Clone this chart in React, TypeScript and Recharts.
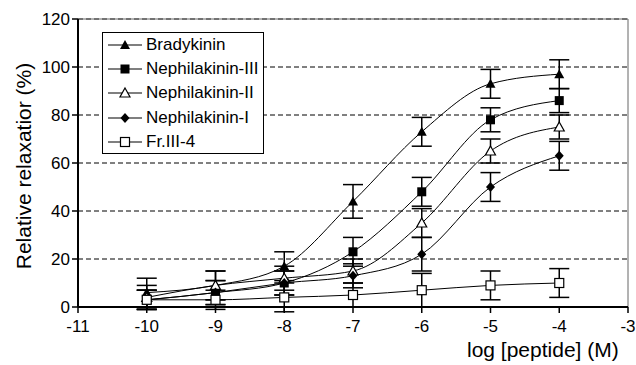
import React from 'react';
import {
  LineChart, Line, XAxis, YAxis, CartesianGrid, ErrorBar, ReferenceLine, Label,
} from 'recharts';

const doses = [-10, -9, -8, -7, -6, -5, -4];

const bradykinin = [6, 9, 17, 44, 73, 93, 97];
const bradykininErr = [6, 6, 6, 7, 6, 6, 6];
const nephIII = [3, 6, 10, 23, 48, 78, 86];
const nephIIIErr = [4, 5, 5, 6, 6, 5, 5];
const nephII = [4, 9, 12, 15, 35, 65, 75];
const nephIIErr = [5, 6, 5, 5, 6, 5, 5];
const nephI = [3, 6, 10, 13, 22, 50, 63];
const nephIErr = [4, 5, 5, 5, 7, 6, 6];
const fr34 = [3, 3, 4, 5, 7, 9, 10];
const fr34Err = [4, 4, 6, 5, 7, 6, 6];

const xTicks = [-11, -10, -9, -8, -7, -6, -5, -4, -3];
const yTicks = [0, 20, 40, 60, 80, 100, 120];

const data = doses.map((x, i) => ({
  x,
  brady: bradykinin[i], bradyErr: bradykininErr[i],
  n3: nephIII[i], n3Err: nephIIIErr[i],
  n2: nephII[i], n2Err: nephIIErr[i],
  n1: nephI[i], n1Err: nephIErr[i],
  fr: fr34[i], frErr: fr34Err[i],
}));

type Shape = 'tri' | 'square' | 'openTri' | 'diamond' | 'openSquare';

const series: { key: string; name: string; shape: Shape }[] = [
  { key: 'brady', name: 'Bradykinin', shape: 'tri' },
  { key: 'n3', name: 'Nephilakinin-III', shape: 'square' },
  { key: 'n2', name: 'Nephilakinin-II', shape: 'openTri' },
  { key: 'n1', name: 'Nephilakinin-I', shape: 'diamond' },
  { key: 'fr', name: 'Fr.III-4', shape: 'openSquare' },
];

const font = 'Liberation Sans, Arial, sans-serif';

const Marker = ({ cx, cy, shape }: { cx: number; cy: number; shape: Shape }) => {
  switch (shape) {
    case 'tri':
      return <path d={`M${cx},${cy - 5} L${cx + 5},${cy + 4} L${cx - 5},${cy + 4} Z`} fill="#000" />;
    case 'openTri':
      return <path d={`M${cx},${cy - 5} L${cx + 5},${cy + 4} L${cx - 5},${cy + 4} Z`} fill="#fff" stroke="#000" strokeWidth={1.2} />;
    case 'square':
      return <rect x={cx - 4.5} y={cy - 4.5} width={9} height={9} fill="#000" />;
    case 'openSquare':
      return <rect x={cx - 4.5} y={cy - 4.5} width={9} height={9} fill="#fff" stroke="#000" strokeWidth={1.2} />;
    default:
      return <path d={`M${cx},${cy - 5} L${cx + 4.5},${cy} L${cx},${cy + 5} L${cx - 4.5},${cy} Z`} fill="#000" />;
  }
};

const LegendBox = () => (
  <div
    style={{
      position: 'absolute', left: 102, top: 32, boxSizing: 'border-box',
      border: '1.5px solid #000', background: '#fff', width: 162, height: 122, paddingTop: 0,
      fontFamily: font, fontSize: 17, color: '#000',
    }}
  >
    {series.map((s) => (
      <div key={s.key} style={{ display: 'flex', alignItems: 'center', height: 24.2 }}>
        <svg width={40} height={16} style={{ marginLeft: 3 }}>
          <line x1={2} y1={8} x2={36} y2={8} stroke="#000" strokeWidth={1.2} />
          <Marker cx={19} cy={8} shape={s.shape} />
        </svg>
        <span>{s.name}</span>
      </div>
    ))}
  </div>
);

const YTitle = (props: any) => {
  const vb = props.viewBox || { x: 78, y: 19, width: 0, height: 288 };
  const cx = 31;
  const cy = vb.y + vb.height / 2 + 3;
  return (
    <text
      x={cx}
      y={cy}
      transform={`rotate(-90, ${cx}, ${cy})`}
      textAnchor="middle"
      fill="#000"
      fontSize={21}
      fontFamily={font}
    >
      Relative relaxatior (%)
    </text>
  );
};

export default function App() {
  return (
    <div style={{ position: 'absolute', left: 0, top: 0, width: 636, height: 365, background: '#fff' }}>
      <LineChart
        width={636}
        height={365}
        data={data}
        margin={{ top: 19, right: 8, left: 36, bottom: 28 }}
        style={{ fontFamily: font }}
      >
        <CartesianGrid vertical={false} stroke="#000" strokeDasharray="5 3" strokeWidth={1} />
        <XAxis
          dataKey="x"
          type="number"
          domain={[-11, -3]}
          allowDataOverflow
          ticks={xTicks}
          interval={0}
          height={30}
          axisLine={{ stroke: '#000', strokeWidth: 2 }}
          tickLine={{ stroke: '#000', strokeWidth: 1.5 }}
          tickSize={6}
          tick={{ fill: '#000', fontSize: 17, dy: 5 }}
        />
        <YAxis
          type="number"
          domain={[0, 120]}
          allowDataOverflow
          ticks={yTicks}
          interval={0}
          width={42}
          axisLine={{ stroke: '#000', strokeWidth: 2 }}
          tickLine={{ stroke: '#000', strokeWidth: 1.5 }}
          tickSize={6}
          tick={{ fill: '#000', fontSize: 17 }}
        >
          <Label content={<YTitle />} />
        </YAxis>
        <ReferenceLine y={120} stroke="#666" strokeWidth={1} />
        <ReferenceLine x={-3} stroke="#666" strokeWidth={1} />
        {series.map((s) => (
          <Line
            key={s.key}
            dataKey={s.key}
            name={s.name}
            type="monotone"
            stroke="#000"
            strokeWidth={1}
            isAnimationActive={false}
            dot={(p: any) => <Marker key={`${s.key}-${p.index}`} cx={p.cx} cy={p.cy} shape={s.shape} />}
            activeDot={false}
          >
            <ErrorBar dataKey={`${s.key}Err`} width={10} stroke="#000" strokeWidth={1.5} direction="y" />
          </Line>
        ))}
      </LineChart>
      <LegendBox />
      <div
        style={{
          position: 'absolute', left: 467, top: 338, fontSize: 21, lineHeight: '24px', color: '#000', fontFamily: font,
        }}
      >
        log [peptide] (M)
      </div>
    </div>
  );
}
